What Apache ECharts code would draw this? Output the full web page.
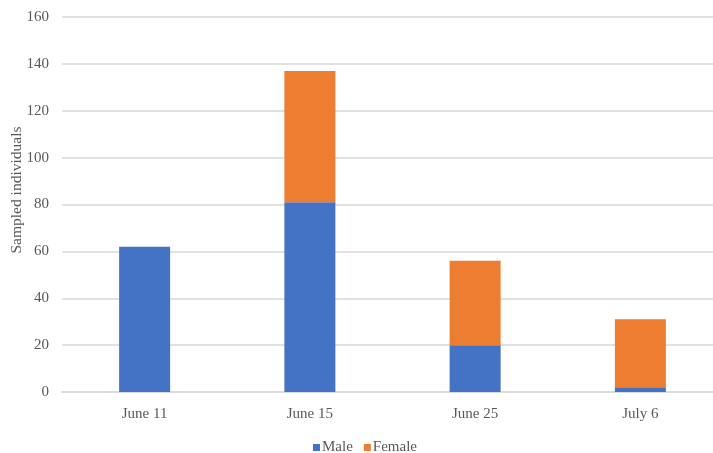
<!DOCTYPE html>
<html>
<head>
<meta charset="utf-8">
<script src="https://cdn.jsdelivr.net/npm/echarts@6/dist/echarts.min.js"></script>
<style>html,body{margin:0;padding:0;background:#fff;overflow:hidden;width:713px;height:453px}#c{width:723px;height:453px}</style>
</head>
<body>
<div id="c"></div>
<script>
const categories = ["June 11", "June 15", "June 25", "July 6"];
const male = [62, 81, 20, 2];
const female = [0, 56, 36, 29];
const seriesNames = ["Male", "Female"];
const yTitle = "Sampled individuals";

const chart = echarts.init(document.getElementById('c'), null, {renderer: 'canvas'});
const font = "'Liberation Serif', 'Times New Roman', serif";
chart.setOption({
  animation: false,
  backgroundColor: '#ffffff',
  textStyle: {fontFamily: font},
  grid: {left: 62, right: 0, top: 17, bottom: 61, containLabel: false},
  graphic: [{
    type: 'text',
    x: 17, y: 190,
    rotation: Math.PI / 2,
    style: {text: yTitle, font: "15.5px 'Liberation Serif', serif", fill: '#595959', align: 'center', verticalAlign: 'middle'}
  }],
  legend: {
    data: seriesNames,
    top: 435,
    left: 308,
    itemWidth: 7,
    itemHeight: 7,
    itemGap: 11,
    icon: 'rect',
    textStyle: {fontFamily: font, fontSize: 15, color: '#595959', padding: [0, 0, 0, -3]}
  },
  xAxis: {
    type: 'category',
    data: categories,
    axisLine: {lineStyle: {color: '#d9d9d9', width: 1.5}},
    axisTick: {show: false},
    axisLabel: {fontFamily: font, fontSize: 15, color: '#595959', margin: 15}
  },
  yAxis: {
    type: 'value',
    min: 0, max: 160, interval: 20,
    axisLine: {show: false},
    axisTick: {show: false},
    axisLabel: {fontFamily: font, fontSize: 15, color: '#595959', margin: 13},
    splitLine: {lineStyle: {color: '#d9d9d9', width: 1.5}}
  },
  series: [
    {name: seriesNames[0], type: 'bar', stack: 'total', data: male, barWidth: 51, itemStyle: {color: '#4472C4'}},
    {name: seriesNames[1], type: 'bar', stack: 'total', data: female, barWidth: 51, itemStyle: {color: '#ED7D31'}}
  ]
});
</script>
</body>
</html>
